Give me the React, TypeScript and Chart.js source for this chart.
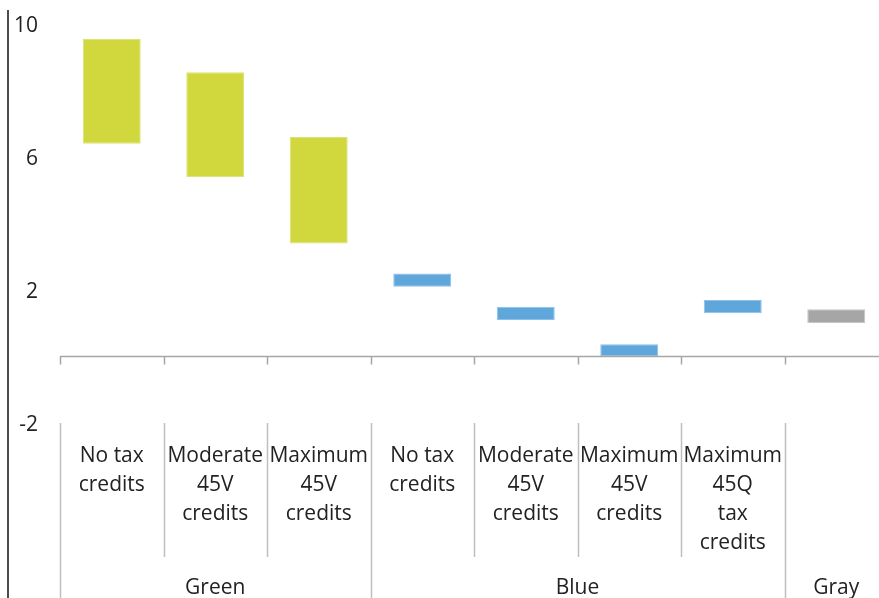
import React, { useEffect, useRef } from "react";
import { Chart, registerables } from "chart.js";

Chart.register(...registerables);

const categoryLines: string[][] = [
  ["No tax", "credits"],
  ["Moderate", "45V", "credits"],
  ["Maximum", "45V", "credits"],
  ["No tax", "credits"],
  ["Moderate", "45V", "credits"],
  ["Maximum", "45V", "credits"],
  ["Maximum", "45Q", "tax", "credits"],
  [],
];
const categories = categoryLines.map((l, i) => (l.length ? l.join(" ") : "Gray") + "#" + i);
const groups = ["Green", "Green", "Green", "Blue", "Blue", "Blue", "Blue", "Gray"];
const lows = [6.4, 5.4, 3.4, 2.1, 1.1, 0.0, 1.3, 1.0];
const highs = [9.55, 8.55, 6.6, 2.5, 1.5, 0.37, 1.7, 1.42];
const yTicks = [-2, 2, 6, 10];

const groupColors: Record<string, string> = {
  Green: "#D0D83E",
  Blue: "#5FA6DA",
  Gray: "#A6A6A6",
};
const groupBorders: Record<string, string> = {
  Green: "#DCE27A",
  Blue: "#8DC0E6",
  Gray: "#C4C4C4",
};

const FONT = "21px 'Open Sans', sans-serif";
const TEXT = "#222222";

const overlay = {
  id: "overlay",
  afterDraw(chart: any) {
    const ctx = chart.ctx as CanvasRenderingContext2D;
    const x = chart.scales.x;
    const y = chart.scales.y;
    const area = chart.chartArea;
    const n = categories.length;
    const half = (x.getPixelForValue(1) - x.getPixelForValue(0)) / 2;
    const y0 = y.getPixelForValue(0);
    const yLow = y.getPixelForValue(-2);
    const H = chart.height;
    ctx.save();
    // left axis line
    ctx.strokeStyle = "#111";
    ctx.lineWidth = 1.5;
    ctx.beginPath();
    ctx.moveTo(8, 10);
    ctx.lineTo(8, H);
    ctx.stroke();
    // y tick labels
    ctx.fillStyle = TEXT;
    ctx.font = FONT;
    ctx.textAlign = "right";
    ctx.textBaseline = "middle";
    yTicks.forEach((t) => {
      ctx.fillText(String(t), 38, y.getPixelForValue(t) + 2);
    });
    // baseline at zero
    ctx.strokeStyle = "#A6A6A6";
    ctx.lineWidth = 1.5;
    ctx.beginPath();
    ctx.moveTo(area.left, y0);
    ctx.lineTo(chart.width, y0);
    ctx.stroke();
    // tick marks at boundaries
    for (let i = 0; i < n; i++) {
      const bx = Math.round(x.getPixelForValue(i) - half) + 0.5;
      ctx.beginPath();
      ctx.moveTo(bx, y0);
      ctx.lineTo(bx, y0 + 8);
      ctx.stroke();
    }
    // separators
    ctx.strokeStyle = "#BFBFBF";
    for (let i = 0; i <= n; i++) {
      const bx = Math.round(x.getPixelForValue(i) - half) + 0.5;
      const isGroupEdge = i === 0 || i === n || groups[i] !== groups[i - 1];
      ctx.beginPath();
      ctx.moveTo(bx, yLow);
      ctx.lineTo(bx, isGroupEdge ? H : yLow + 134);
      ctx.stroke();
    }
    // category labels
    ctx.fillStyle = TEXT;
    ctx.textAlign = "center";
    ctx.textBaseline = "middle";
    categoryLines.forEach((lines, i) => {
      const cx = x.getPixelForValue(i);
      lines.forEach((ln, j) => {
        ctx.fillText(ln, cx, yLow + 33 + j * 29);
      });
    });
    // group labels
    const seen: string[] = [];
    groups.forEach((g) => {
      if (seen.indexOf(g) >= 0) return;
      seen.push(g);
      const idx = groups.map((gg, k) => (gg === g ? k : -1)).filter((k) => k >= 0);
      const cx = (x.getPixelForValue(idx[0]) + x.getPixelForValue(idx[idx.length - 1])) / 2;
      ctx.fillText(g, cx, yLow + 165);
    });
    ctx.restore();
  },
};

export default function App() {
  const ref = useRef<HTMLCanvasElement | null>(null);
  useEffect(() => {
    if (!ref.current) return;
    const chart = new Chart(ref.current, {
      type: "bar",
      data: {
        labels: categories,
        datasets: [
          {
            data: lows.map((l, i) => [l, highs[i]]) as any,
            backgroundColor: groups.map((g) => groupColors[g]),
            borderColor: groups.map((g) => groupBorders[g]),
            borderWidth: 1,
            borderSkipped: false,
            barPercentage: 0.56,
            categoryPercentage: 1,
          },
        ],
      },
      options: {
        responsive: false,
        animation: false,
        devicePixelRatio: 1,
        layout: { padding: { left: 60, right: 2, top: 24, bottom: 175 } },
        plugins: { legend: { display: false }, tooltip: { enabled: false } },
        scales: {
          x: { display: false },
          y: { display: false, min: -2, max: 10 },
        },
      },
      plugins: [overlay],
    });
    return () => chart.destroy();
  }, []);
  return (
    <div
      style={{
        position: "absolute",
        left: 0,
        top: 0,
        width: 879,
        height: 598,
        overflow: "hidden",
        background: "#fff",
      }}
    >
      <canvas ref={ref} width={890} height={598} style={{ display: "block" }} />
    </div>
  );
}
